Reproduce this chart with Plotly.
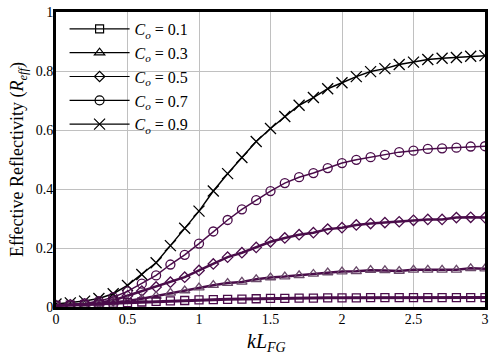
import plotly.graph_objects as go

x_vals = [round(0.1 * i, 1) for i in range(31)]

c01 = [0.005, 0.006, 0.008, 0.010, 0.013, 0.015, 0.017, 0.019, 0.021, 0.022, 0.024,
       0.025, 0.026, 0.027, 0.028, 0.029, 0.029, 0.030, 0.030, 0.031, 0.031,
       0.031, 0.032, 0.032, 0.032, 0.032, 0.032, 0.032, 0.032, 0.032, 0.032]
c03 = [0.005, 0.006, 0.008, 0.011, 0.015, 0.020, 0.028, 0.037, 0.048, 0.056, 0.066,
       0.074, 0.081, 0.085, 0.094, 0.100, 0.103, 0.107, 0.112, 0.117, 0.120,
       0.121, 0.125, 0.124, 0.122, 0.126, 0.126, 0.126, 0.126, 0.131, 0.130]
c05 = [0.005, 0.007, 0.010, 0.015, 0.022, 0.038, 0.054, 0.068, 0.084, 0.101, 0.124,
       0.146, 0.169, 0.184, 0.202, 0.221, 0.234, 0.245, 0.252, 0.264, 0.269,
       0.278, 0.283, 0.286, 0.289, 0.294, 0.297, 0.297, 0.303, 0.304, 0.303]
c07 = [0.005, 0.008, 0.012, 0.020, 0.033, 0.053, 0.079, 0.107, 0.144, 0.177, 0.215,
       0.256, 0.295, 0.331, 0.362, 0.393, 0.420, 0.440, 0.454, 0.471, 0.488,
       0.499, 0.508, 0.516, 0.525, 0.530, 0.536, 0.538, 0.540, 0.544, 0.545]
c09 = [0.010, 0.014, 0.020, 0.029, 0.045, 0.073, 0.110, 0.150, 0.208, 0.267, 0.325,
       0.393, 0.452, 0.507, 0.561, 0.605, 0.646, 0.684, 0.710, 0.740, 0.760,
       0.781, 0.798, 0.808, 0.822, 0.830, 0.839, 0.843, 0.846, 0.850, 0.852]

labels = ["0.1", "0.3", "0.5", "0.7", "0.9"]
series = [c01, c03, c05, c07, c09]
symbols = ["square-open", "triangle-up-open", "diamond-open", "circle-open", "x-thin-open"]
sizes = [8, 9, 8, 9, 11]
line_widths = [3, 2.5, 2.5, 1.5, 1.5]
purple = "#4a0c4a"
colors = [purple, purple, purple, purple, "black"]
marker_colors = [purple, "#6a4a6a", purple, purple, "black"]

x_ticks = [0, 0.5, 1, 1.5, 2, 2.5, 3]
x_tick_text = ["0", "0.5", "1", "1.5", "2", "2.5", "3"]
y_ticks = [0, 0.2, 0.4, 0.6, 0.8, 1]
y_tick_text = ["0", "0.2", "0.4", "0.6", "0.8", "1"]

fig = go.Figure()
serif = "Liberation Serif, Times New Roman, serif"

for i in reversed(range(5)):
    fig.add_trace(go.Scatter(
        x=x_vals, y=series[i], mode="lines+markers",
        line=dict(color=colors[i], width=line_widths[i]),
        marker=dict(symbol=symbols[i], size=sizes[i],
                    line=dict(color=marker_colors[i], width=1.3), color=marker_colors[i]),
        showlegend=False, cliponaxis=True,
    ))

for i in range(5):
    fig.add_trace(go.Scatter(
        x=[None], y=[None], mode="lines+markers",
        name=f"<i>C<sub>o</sub></i> = {labels[i]}",
        line=dict(color="black", width=1.2),
        marker=dict(symbol=symbols[i], size=sizes[i],
                    line=dict(color="black", width=1.2), color="black"),
        showlegend=True,
    ))

fig.update_layout(
    width=498, height=360,
    margin=dict(l=56, r=9, t=9, b=53),
    plot_bgcolor="white", paper_bgcolor="white",
    font=dict(family=serif, color="black", size=14),
    legend=dict(x=0.02, y=1.0, xanchor="left", yanchor="top",
                bgcolor="rgba(255,255,255,0)", borderwidth=0,
                font=dict(family=serif, size=16), itemwidth=60,
                tracegroupgap=0),
    xaxis=dict(range=[0, 3], tickvals=x_ticks, ticktext=x_tick_text,
               showgrid=True, gridcolor="#c0c0c0", gridwidth=1,
               showline=True, linecolor="black", linewidth=3, mirror=True,
               ticks="", zeroline=False, tickfont=dict(family=serif, size=14),
               ticklabelstandoff=-3),
    yaxis=dict(range=[0, 1], tickvals=y_ticks, ticktext=y_tick_text,
               showgrid=True, gridcolor="#c0c0c0", gridwidth=1,
               showline=True, linecolor="black", linewidth=3, mirror=True,
               ticks="", zeroline=False, tickfont=dict(family=serif, size=14),
               ticklabelstandoff=-3, automargin=False,
               title=dict(text="Effective Reflectivity (<i>R<sub>eff</sub></i>)",
                          font=dict(family=serif, size=18), standoff=8)),
    annotations=[dict(text="<i>kL<sub>FG</sub></i>", xref="paper", yref="paper",
                      x=0.49, y=-0.121, xanchor="center", yanchor="middle",
                      showarrow=False, font=dict(family=serif, size=20))],
)

fig.write_html("out.html", config={"displayModeBar": False},
               post_script="document.body.style.margin='0';document.body.style.overflow='hidden';")
